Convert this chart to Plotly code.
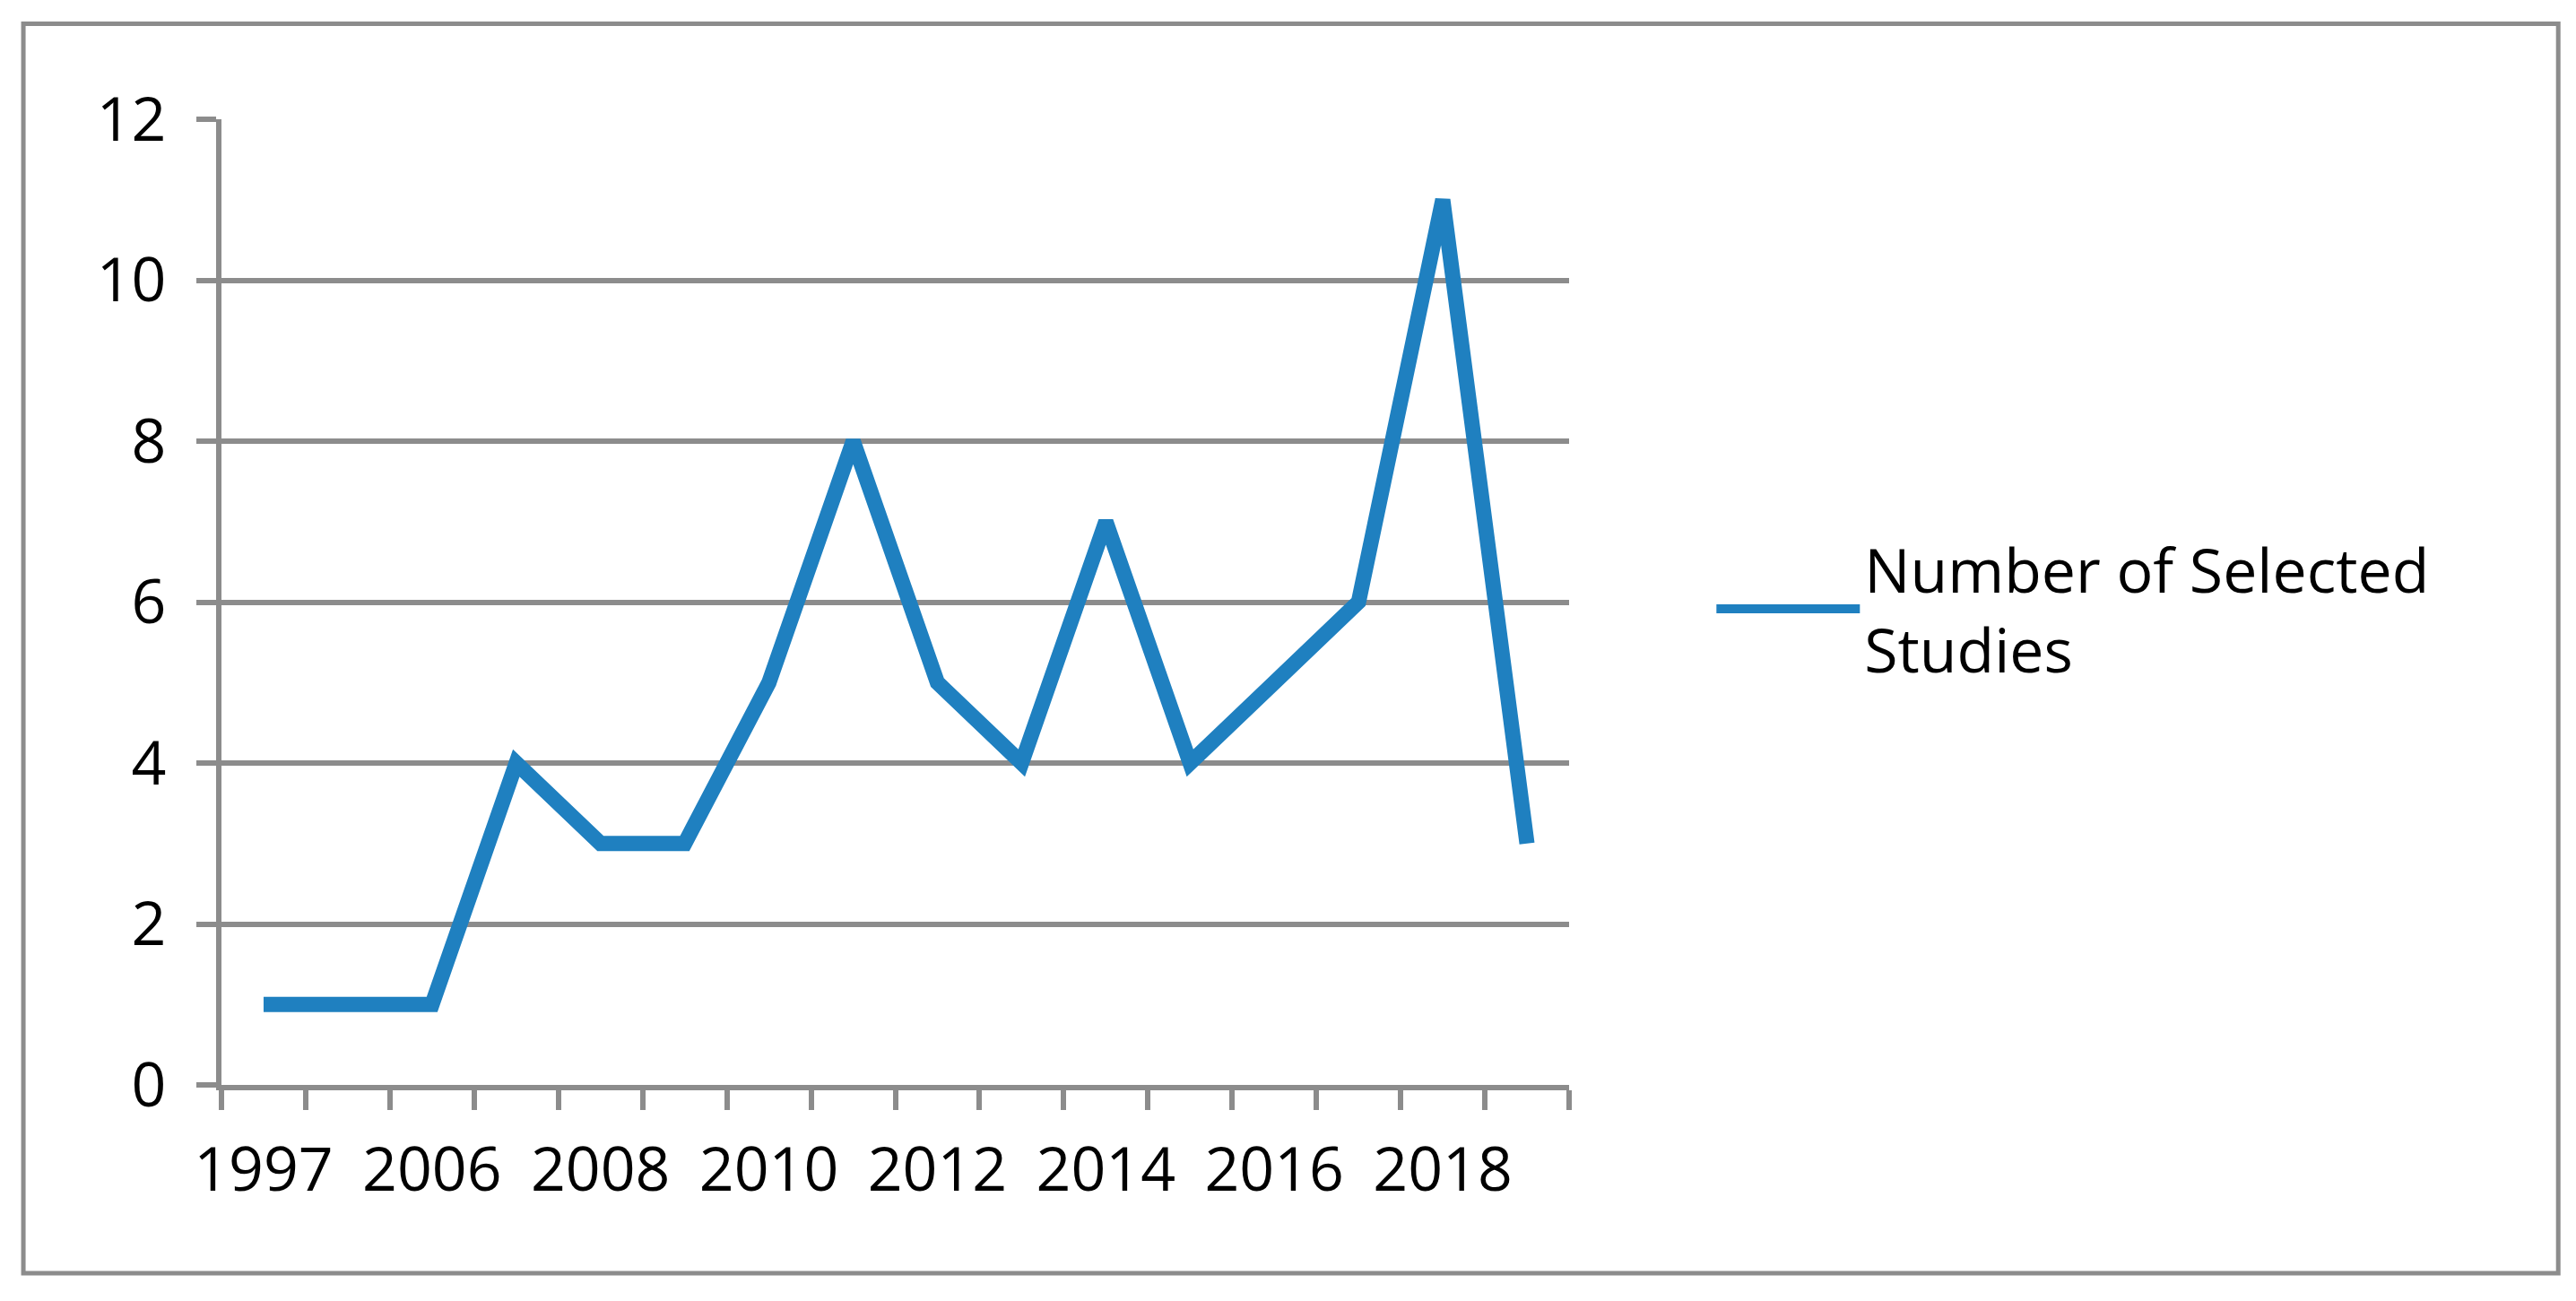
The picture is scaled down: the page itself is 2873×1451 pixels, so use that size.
import plotly.graph_objects as go

years = ["1997", "2004", "2006", "2007", "2008", "2009", "2010", "2011",
         "2012", "2013", "2014", "2015", "2016", "2017", "2018", "2019"]
studies = [1, 1, 1, 4, 3, 3, 5, 8, 5, 4, 7, 4, 5, 6, 11, 3]

idx = list(range(len(years)))
GREY = "#8c8c8c"
FONT = dict(family="Open Sans, Liberation Sans, Arial", size=68, color="#000000")

fig = go.Figure(go.Scatter(
    x=idx, y=studies, mode="lines", name="Number of Selected<br>Studies",
    line=dict(color="#1f80c0", width=17, shape="linear"),
))

fig.update_layout(
    width=2873, height=1451,
    margin=dict(l=239, r=1131, t=125, b=249),
    paper_bgcolor="white", plot_bgcolor="white",
    font=FONT,
    showlegend=True,
    legend=dict(x=1.106, y=0.493, xanchor="left", yanchor="middle",
                font=FONT, itemwidth=160, bgcolor="rgba(0,0,0,0)"),
    xaxis=dict(
        range=[-0.5, len(years) - 0.5],
        tickvals=idx[::2], ticktext=years[::2],
        ticks="", showgrid=False, zeroline=False,
        showline=True, linecolor=GREY, linewidth=6,
        ticklabelstandoff=30,
        minor=dict(tickmode="linear", tick0=-0.5, dtick=1, ticks="outside",
                   ticklen=22, tickwidth=6, tickcolor=GREY, showgrid=False),
    ),
    yaxis=dict(
        range=[0, 12], dtick=2, showgrid=True, gridcolor=GREY, gridwidth=6,
        zeroline=False, showline=True, linecolor=GREY, linewidth=6,
        ticks="outside", ticklen=22, tickwidth=6, tickcolor=GREY,
        ticklabelstandoff=20,
    ),
    shapes=[dict(type="rect", xref="paper", yref="paper",
                 x0=-0.147, x1=1.734, y0=-0.195, y1=1.099,
                 line=dict(color=GREY, width=5))],
)

fig.write_html("out.html")
